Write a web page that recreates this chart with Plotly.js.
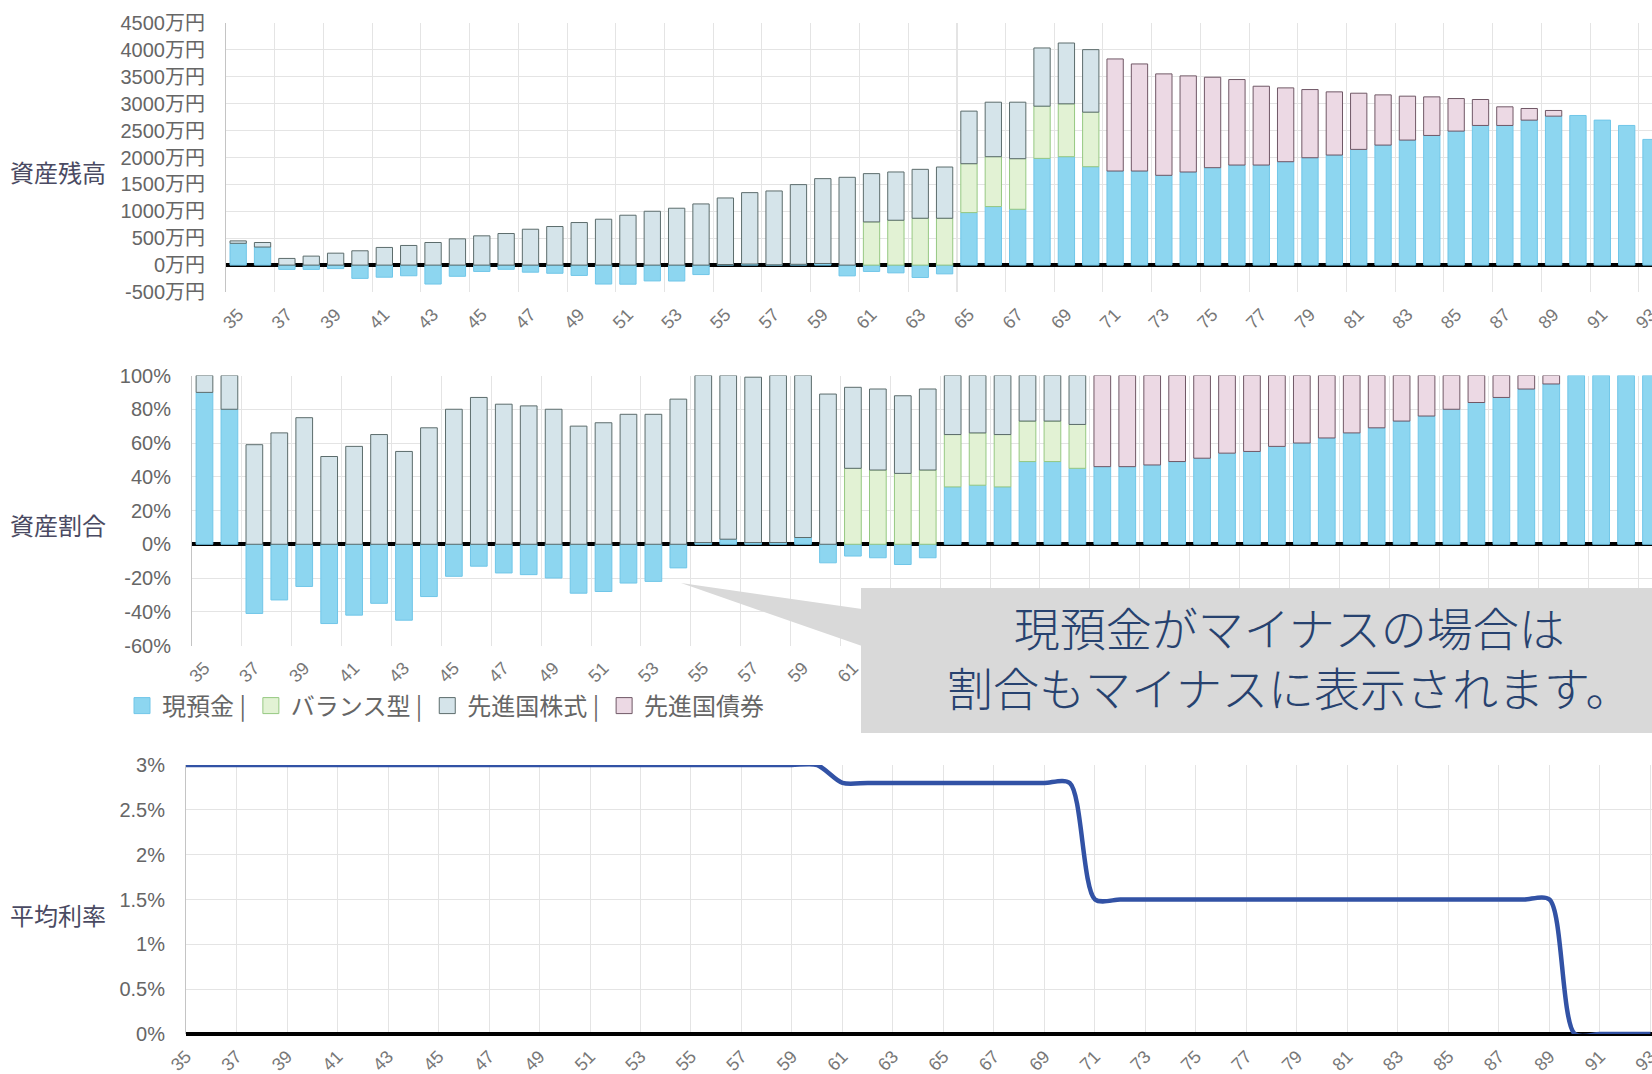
<!DOCTYPE html>
<html><head><meta charset="utf-8">
<script src="https://cdn.plot.ly/plotly-3.0.1.min.js"></script>
<style>html,body{margin:0;padding:0;background:#fff;overflow:hidden}#chart{width:1652px;height:1074px}</style>
</head><body><div id="chart"></div>
<script>
// ---------- data ----------
const ages = [35,36,37,38,39,40,41,42,43,44,45,46,47,48,49,50,51,52,53,54,55,56,57,58,59,60,61,62,63,64,65,66,67,68,69,70,71,72,73,74,75,76,77,78,79,80,81,82,83,84,85,86,87,88,89,90,91,92,93];
const ageTickVals = [35,37,39,41,43,45,47,49,51,53,55,57,59,61,63,65,67,69,71,73,75,77,79,81,83,85,87,89,91,93];
const ageTickLabels = ['35','37','39','41','43','45','47','49','51','53','55','57','59','61','63','65','67','69','71','73','75','77','79','81','83','85','87','89','91','93'];

const seriesNames = ['現預金','バランス型','先進国株式','先進国債券'];

// 資産残高 (万円)
const balanceCash = [405,336,-80,-80,-65,-247,-225,-198,-352,-208,-118,-78,-132,-152,-192,-352,-355,-294,-296,-176,10,20,5,15,30,-200,-118,-144,-230,-163,976,1088,1038,1984,2015,1829,1749,1749,1669,1731,1811,1860,1860,1922,1996,2046,2151,2231,2324,2410,2491,2596,2596,2695,2769,2781,2695,2596,2336];
const balanceBalanced = [null,null,null,null,null,null,null,null,null,null,null,null,null,null,null,null,null,null,null,null,null,null,null,null,null,null,803,834,871,871,909,927,940,970,983,1014,null,null,null,null,null,null,null,null,null,null,null,null,null,null,null,null,null,null,null,null,null,null,null];
const balanceStocks = [45,84,124,167,222,266,328,365,420,488,544,587,667,717,791,853,927,1001,1057,1137,1238,1327,1373,1481,1577,1632,897,897,909,952,977,1013,1050,1082,1130,1162,null,null,null,null,null,null,null,null,null,null,null,null,null,null,null,null,null,null,null,null,null,null,null];
const balanceBonds = [null,null,null,null,null,null,null,null,null,null,null,null,null,null,null,null,null,null,null,null,null,null,null,null,null,null,null,null,null,null,null,null,null,null,null,null,2083,1990,1885,1786,1681,1589,1465,1372,1267,1174,1044,933,816,717,605,482,346,216,105,null,null,null,null];

// 資産割合 (%)
const ratioCash = [90,80,-41,-33,-25,-47,-42,-35,-45,-31,-19,-13,-17,-18,-20,-29,-28,-23,-22,-14,1,3,1,1,4,-11,-7,-8,-12,-8,34,35,34,49,49,45,46,46,47,49,51,54,55,58,60,63,66,69,73,76,80,84,87,92,95,100,100,100,100];
const ratioBalanced = [null,null,null,null,null,null,null,null,null,null,null,null,null,null,null,null,null,null,null,null,null,null,null,null,null,null,45,44,42,44,31,31,31,24,24,26,null,null,null,null,null,null,null,null,null,null,null,null,null,null,null,null,null,null,null,null,null,null,null];
const ratioStocks = [10,20,59,66,75,52,58,65,55,69,80,87,83,82,80,70,72,77,77,86,99,97,98,99,96,89,48,48,46,48,35,34,35,27,27,29,null,null,null,null,null,null,null,null,null,null,null,null,null,null,null,null,null,null,null,null,null,null,null];
const ratioBonds = [null,null,null,null,null,null,null,null,null,null,null,null,null,null,null,null,null,null,null,null,null,null,null,null,null,null,null,null,null,null,null,null,null,null,null,null,54,54,53,51,49,46,45,42,40,37,34,31,27,24,20,16,13,8,5,null,null,null,null];

// 平均利率 (%)
const avgRate = [3,3,3,3,3,3,3,3,3,3,3,3,3,3,3,3,3,3,3,3,3,3,3,3,3,3,2.8,2.8,2.8,2.8,2.8,2.8,2.8,2.8,2.8,2.8,1.5,1.5,1.5,1.5,1.5,1.5,1.5,1.5,1.5,1.5,1.5,1.5,1.5,1.5,1.5,1.5,1.5,1.5,1.5,0,0,0,0];

const balanceTickVals = [-500,0,500,1000,1500,2000,2500,3000,3500,4000,4500];
const balanceTickText = ['-500万円','0万円','500万円','1000万円','1500万円','2000万円','2500万円','3000万円','3500万円','4000万円','4500万円'];
const ratioTickVals = [-60,-40,-20,0,20,40,60,80,100];
const ratioTickText = ['-60%','-40%','-20%','0%','20%','40%','60%','80%','100%'];
const rateTickVals = [0,0.5,1,1.5,2,2.5,3];
const rateTickText = ['0%','0.5%','1%','1.5%','2%','2.5%','3%'];

const noteLines = ['現預金がマイナスの場合は','割合もマイナスに表示されます。'];
const panelTitles = ['資産残高','資産割合','平均利率'];

// ---------- style ----------
const W = 1652, H = 1074;
const fx = p => p / W;
const fy = p => 1 - p / H;
const FONT = 'Liberation Sans, Noto Sans CJK JP, sans-serif';
const CJK = 'Noto Sans CJK JP, sans-serif';
const GRID = '#e4e4e4';
const AXLINE = '#c4c4c4';
const fills = ['rgb(141,214,240)','rgb(226,242,212)','rgb(213,228,234)','rgb(236,217,228)'];
const borders = ['rgb(112,198,232)','rgb(150,200,130)','rgb(92,108,108)','rgb(112,88,102)'];
const legendNames = ['現預金 |','バランス型 |','先進国株式 |','先進国債券'];

const boundaries = ageTickVals.map(a => a - 0.5);

function barTrace(y, i, xa, ya) {
  return {type:'bar', x:ages, y:y, name:seriesNames[i], xaxis:xa, yaxis:ya, showlegend:false,
    marker:{color:fills[i], line:{color:borders[i], width:1}}, hoverinfo:'skip'};
}

const traces = [
  barTrace(balanceCash,0,'x','y'), barTrace(balanceBalanced,1,'x','y'), barTrace(balanceStocks,2,'x','y'), barTrace(balanceBonds,3,'x','y'),
  barTrace(ratioCash,0,'x2','y2'), barTrace(ratioBalanced,1,'x2','y2'), barTrace(ratioStocks,2,'x2','y2'), barTrace(ratioBonds,3,'x2','y2'),
  {type:'scatter', mode:'lines', x:ages, y:avgRate, xaxis:'x3', yaxis:'y3', showlegend:false,
   line:{color:'rgb(50,82,165)', width:4.5, shape:'spline', smoothing:0.8}, hoverinfo:'skip'}
];
// legend entries
seriesNames.forEach((n,i) => traces.push({type:'scatter', mode:'markers', x:[null], y:[null], xaxis:'x2', yaxis:'y2',
  name:legendNames[i], showlegend:true, marker:{symbol:'square', size:22, color:fills[i], line:{color:borders[i], width:1}}}));

const tickFont = {family:FONT, size:20, color:'#666'};
const xTickFont = {family:FONT, size:18, color:'#777'};

function barX(left, anchor) {
  return {domain:[fx(left),1], anchor:anchor, range:[34.5,93.04], tickmode:'array', tickvals:ageTickVals, ticktext:ageTickLabels,
    tickangle:-45, tickfont:xTickFont, showgrid:false, zeroline:false, showline:false, ticks:'outside', ticklen:4, tickcolor:'rgba(0,0,0,0)',
    ticklabeloverflow:'allow',
    minor:{tickmode:'array', tickvals:boundaries, showgrid:true, gridcolor:GRID, gridwidth:1, ticks:''}, fixedrange:true};
}
function yAx(top, bottom, anchor, range, vals, text) {
  return {domain:[fy(bottom), fy(top)], anchor:anchor, range:range, tickmode:'array', tickvals:vals, ticktext:text,
    tickfont:tickFont, showgrid:true, gridcolor:GRID, gridwidth:1, zeroline:true, zerolinecolor:'#000', zerolinewidth:4,
    showline:true, linecolor:AXLINE, linewidth:1, ticks:'outside', ticklen:16, tickcolor:'rgba(0,0,0,0)', fixedrange:true};
}

const layout = {
  width:W, height:H, margin:{l:0,r:0,t:0,b:0}, paper_bgcolor:'#fff', plot_bgcolor:'#fff',
  barmode:'relative', bargap:0.33, showlegend:true,
  xaxis: barX(226,'y'),
  yaxis: yAx(23,292,'x',[-500,4500],balanceTickVals,balanceTickText),
  xaxis2: barX(192,'y2'),
  yaxis2: yAx(375.5,645.5,'x2',[-60,100],ratioTickVals,ratioTickText),
  xaxis3: {domain:[fx(186),1], anchor:'y3', range:[35,93.06], tickmode:'array', tickvals:ageTickVals, ticktext:ageTickLabels,
    tickangle:-45, tickfont:xTickFont, showgrid:true, gridcolor:GRID, zeroline:false, showline:false, ticklabeloverflow:'allow',
    ticks:'outside', ticklen:4, tickcolor:'rgba(0,0,0,0)', fixedrange:true},
  yaxis3: yAx(765,1034,'x3',[0,3],rateTickVals,rateTickText),
  legend:{orientation:'h', x:fx(122), xanchor:'left', y:fy(706), yanchor:'middle', font:{family:CJK, size:24, color:'#666'},
    bgcolor:'rgba(0,0,0,0)', traceorder:'normal', itemclick:false, itemdoubleclick:false},
  shapes:[
    {type:'line', xref:'x', yref:'y domain', x0:64.5, x1:64.5, y0:0, y1:1, line:{color:'#b8b8b8', width:1.2}, layer:'below'},
    {type:'rect', xref:'paper', yref:'paper', x0:fx(861), x1:1, y0:fy(733), y1:fy(588), fillcolor:'#d9d9d9', line:{width:0}, layer:'above'},
    {type:'path', xref:'paper', yref:'paper', path:`M ${fx(681)},${fy(583)} L ${fx(862)},${fy(609)} L ${fx(862)},${fy(646)} Z`, fillcolor:'#d9d9d9', line:{width:0}, layer:'above'}
  ],
  annotations:[
    {xref:'paper', yref:'paper', x:fx(58), y:fy(172), text:panelTitles[0], showarrow:false, xanchor:'center', yanchor:'middle', font:{family:CJK, size:24, color:'#4a4a62'}},
    {xref:'paper', yref:'paper', x:fx(58), y:fy(524), text:panelTitles[1], showarrow:false, xanchor:'center', yanchor:'middle', font:{family:CJK, size:24, color:'#4a4a62'}},
    {xref:'paper', yref:'paper', x:fx(58), y:fy(914), text:panelTitles[2], showarrow:false, xanchor:'center', yanchor:'middle', font:{family:CJK, size:24, color:'#4a4a62'}},
    {xref:'paper', yref:'paper', x:fx(1289), y:fy(656), text:noteLines.join('<br>'), showarrow:false, xanchor:'center', yanchor:'middle', align:'center',
     font:{family:'Noto Sans CJK JP Light, Noto Sans CJK JP, sans-serif', size:46, color:'#27426f', weight:300}}
  ]
};

Plotly.newPlot('chart', traces, layout, {displayModeBar:false, staticPlot:true});
</script>
</body></html>
